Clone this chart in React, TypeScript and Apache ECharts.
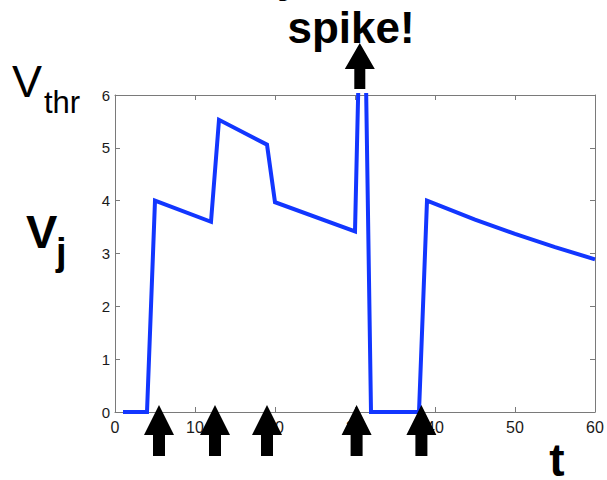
import React, { useEffect, useRef } from "react";
import * as echarts from "echarts";

// membrane potential trace V_j(t)
const times = [1, 4, 5, 12, 13, 19, 20, 30, 31, 32, 38, 39, 45, 50, 55, 60];
const potentials = [0, 0, 4.0, 3.6, 5.53, 5.06, 3.97, 3.42, 10, 0, 0, 4.0, 3.64, 3.37, 3.12, 2.89];
// incoming spikes (arrows under the axis) and the output spike (arrow on top)
const inputSpikeTimes = [5.5, 12.5, 19, 30.2, 38.3];
const outputSpikeTimes = [30.6];
const xMin = 0;
const xMax = 60;
const xStep = 10;
const yMin = 0;
const yMax = 6;
const yStep = 1;

const FONT = "'Liberation Sans', Arial, Helvetica, sans-serif";
const ARROW_UP = "path://M15,0 L30,30 L21,30 L21,51 L9,51 L9,30 L0,30 Z";
const ARROW_TOP = "path://M15,0 L30,26 L20.5,26 L20.5,46 L9.5,46 L9.5,26 L0,26 Z";

export default function App() {
  const ref = useRef<HTMLDivElement>(null);
  useEffect(() => {
    if (!ref.current) return;
    const chart = echarts.init(ref.current, undefined, { renderer: "svg" });
    const axisColor = "#7a7a7a";
    const labelColor = "#1a1a1a";
    const baseX = {
      type: "value" as const,
      min: xMin,
      max: xMax,
      interval: xStep,
      splitLine: { show: false },
      axisLine: { show: true, onZero: false, lineStyle: { color: axisColor, width: 1 } },
      axisTick: { show: true, inside: true, length: 5, lineStyle: { color: axisColor } },
    };
    const baseY = {
      type: "value" as const,
      min: yMin,
      max: yMax,
      interval: yStep,
      splitLine: { show: false },
      axisLine: { show: true, onZero: false, lineStyle: { color: axisColor, width: 1 } },
      axisTick: { show: true, inside: true, length: 5, lineStyle: { color: axisColor } },
    };
    chart.setOption({
      animation: false,
      backgroundColor: "#ffffff",
      grid: { left: 115, top: 95, right: 12, bottom: 68, containLabel: false },
      xAxis: [
        {
          ...baseX,
          position: "bottom",
          axisLabel: { show: true, fontSize: 16, color: labelColor, fontFamily: FONT, margin: 7 },
        },
        { ...baseX, position: "top", axisLabel: { show: false } },
      ],
      yAxis: [
        {
          ...baseY,
          position: "left",
          axisLabel: { show: true, fontSize: 15, color: labelColor, fontFamily: FONT, margin: 5 },
        },
        { ...baseY, position: "right", axisLabel: { show: false } },
      ],
      series: [
        {
          type: "line",
          xAxisIndex: 0,
          yAxisIndex: 0,
          data: times.map((t, i) => [t, potentials[i]]),
          showSymbol: false,
          symbol: "none",
          clip: true,
          lineStyle: { color: "#1236ff", width: 4, join: "miter" },
          z: 2,
        },
        {
          type: "scatter",
          xAxisIndex: 0,
          yAxisIndex: 0,
          data: inputSpikeTimes.map((t) => [t, yMin]),
          symbol: ARROW_UP,
          symbolSize: [30, 51],
          symbolKeepAspect: false,
          symbolOffset: [0, 18.5],
          clip: false,
          itemStyle: { color: "#000000", opacity: 1 },
          z: 5,
        },
        {
          type: "scatter",
          xAxisIndex: 0,
          yAxisIndex: 0,
          data: outputSpikeTimes.map((t) => [t, yMax]),
          symbol: ARROW_TOP,
          symbolSize: [30, 46],
          symbolKeepAspect: false,
          symbolOffset: [0, -29],
          clip: false,
          itemStyle: { color: "#000000", opacity: 1 },
          z: 5,
        },
      ],
      graphic: [
        {
          type: "text",
          x: 277,
          y: -24,
          style: { text: "y", fontSize: 44, fontWeight: "bold", fontFamily: FONT, fill: "#000", align: "left", verticalAlign: "middle" },
        },
        {
          type: "text",
          x: 351,
          y: 27,
          style: { text: "spike!", fontSize: 44, fontWeight: "bold", fontFamily: FONT, fill: "#000", align: "center", verticalAlign: "middle" },
        },
        {
          type: "text",
          x: 12,
          y: 81,
          style: { text: "V", fontSize: 45, fontFamily: FONT, fill: "#000", align: "left", verticalAlign: "middle" },
        },
        {
          type: "text",
          x: 44,
          y: 102,
          style: { text: "thr", fontSize: 31, fontFamily: FONT, fill: "#000", align: "left", verticalAlign: "middle" },
        },
        {
          type: "text",
          x: 26,
          y: 231,
          style: { text: "V", fontSize: 47, fontWeight: "bold", fontFamily: FONT, fill: "#000", align: "left", verticalAlign: "middle" },
        },
        {
          type: "text",
          x: 56,
          y: 252,
          style: { text: "j", fontSize: 38, fontWeight: "bold", fontFamily: FONT, fill: "#000", align: "left", verticalAlign: "middle" },
        },
        {
          type: "text",
          x: 557,
          y: 460,
          style: { text: "t", fontSize: 46, fontWeight: "bold", fontFamily: FONT, fill: "#000", align: "center", verticalAlign: "middle" },
        },
      ],
    });
    return () => chart.dispose();
  }, []);
  return (
    <div
      ref={ref}
      style={{ position: "fixed", left: 0, top: 0, width: 607, height: 480, background: "#fff" }}
    />
  );
}
